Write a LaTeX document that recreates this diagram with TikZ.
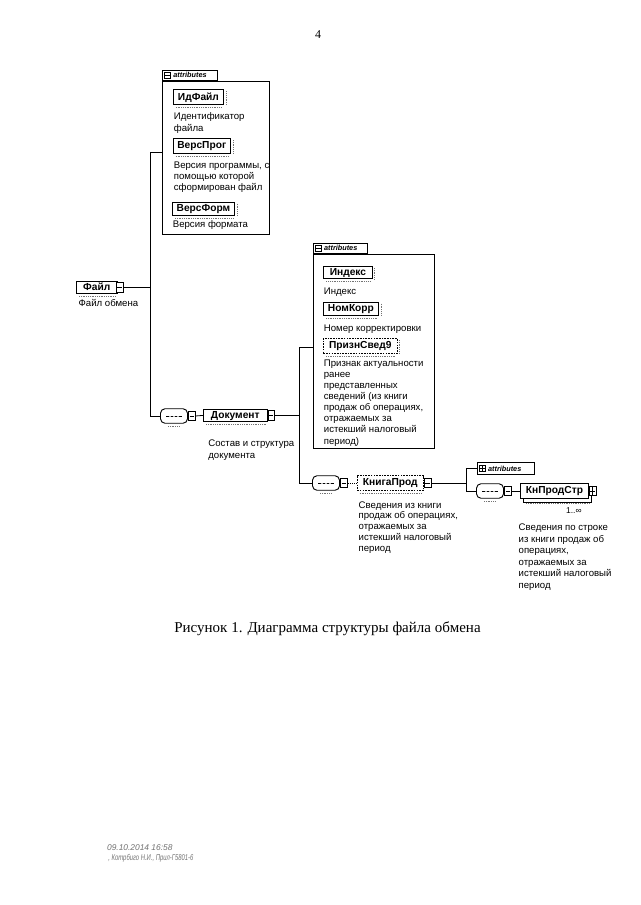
\documentclass[tikz,border=0pt]{standalone}
\usepackage{graphicx}
\usepackage{fontspec}
\setmainfont{Liberation Sans}
\newfontfamily\serifrm{Liberation Serif}
\usetikzlibrary{calc}
\begin{document}
\begin{tikzpicture}[x=1pt,y=-1pt,
  line width=0.8pt,
  elbox/.style={draw, line width=0.9pt, fill=white, inner sep=0, anchor=north west, text height=7.4pt, text depth=1.6pt,
    font=\fontsize{10.2}{11}\selectfont\bfseries},
  optbox/.style={elbox, dash pattern=on 1.6pt off 1.1pt},
  desc/.style={anchor=base west, inner sep=0, align=left, font=\fontsize{9.6}{11.3}\selectfont},
  btnm/.style={draw, line width=0.7pt, fill=white, inner sep=0, minimum width=6.6, minimum height=9.5, anchor=west,
    path picture={\draw[line width=0.6pt] ([xshift=1.2pt]path picture bounding box.west) -- ([xshift=-1.2pt]path picture bounding box.east);}},
  btnp/.style={btnm,
    path picture={\draw[line width=0.6pt] ([xshift=1.2pt]path picture bounding box.west) -- ([xshift=-1.2pt]path picture bounding box.east)
      ([yshift=-1.2pt]path picture bounding box.north) -- ([yshift=1.2pt]path picture bounding box.south);}},
  seqc/.style={draw, line width=0.9pt, fill=white, rounded corners=4.5pt, inner sep=0, minimum width=27, minimum height=14.5,
    path picture={\coordinate (ppc) at (path picture bounding box.center);
      \draw[line width=0.6pt] ($(ppc)+(-8,0)$) -- ($(ppc)+(8,0)$);
      \fill ($(ppc)+(-4,0)$) circle (1.2pt); \fill (ppc) circle (1.2pt); \fill ($(ppc)+(4,0)$) circle (1.2pt);}},
  attbox/.style={draw, line width=0.9pt, fill=white, inner sep=0, anchor=north west},
  attab/.style={draw, line width=0.8pt, fill=white, inner sep=0, anchor=south west, minimum height=10.7},
  atttxt/.style={anchor=west, inner sep=0, font=\fontsize{7.3}{8}\selectfont\itshape\bfseries},
  sqm/.style={draw, line width=0.6pt, inner sep=0, minimum size=6.5,
    path picture={\draw[line width=0.5pt] (path picture bounding box.west) -- (path picture bounding box.east);}},
  sqp/.style={draw, line width=0.6pt, inner sep=0, minimum size=6.5,
    path picture={\draw[line width=0.5pt] (path picture bounding box.west) -- (path picture bounding box.east)
      (path picture bounding box.north) -- (path picture bounding box.south);}},
  ul/.style={draw=black!55, line width=0.6pt, dash pattern=on 1pt off 0.8pt}
]
\useasboundingbox (0,0) rectangle (640,905);
\fill[white] (0,0) rectangle (640,905);

% page number
\node[inner sep=0, anchor=base, font=\serifrm\fontsize{12}{14}\selectfont] (pg) at (318,38) {4};

% ---------- attributes of Файл ----------
\node[attbox, minimum width=107, minimum height=153] (att1) at (162,81) {};
\node[attab, minimum width=55] (tab1) at (att1.north west) {};
\node[sqm] (tab1s) at ($(tab1.west)+(5.5,0)$) {};
\node[atttxt] (tab1t) at ($(tab1.west)+(11,0)$) {attributes};

\node[elbox, minimum width=50.6, minimum height=14.7] (idf) at (172.7,89.3) {ИдФайл};
\draw[ul] ($(idf.south west)+(3,2)$) -- ($(idf.south east)+(-2,2)$);
\draw[ul] ($(idf.north east)+(2,2)$) -- ($(idf.south east)+(2,0)$);
\node[desc, font=\fontsize{9.6}{11.6}\selectfont] (idfd) at (173.5,131.5) {Идентификатор\\файла};

\node[elbox, minimum width=57.3, minimum height=15] (vp) at (172.7,138) {ВерсПрог};
\draw[ul] ($(vp.south west)+(3,2)$) -- ($(vp.south east)+(-2,2)$);
\draw[ul] ($(vp.north east)+(2,2)$) -- ($(vp.south east)+(2,0)$);
\node[desc, font=\fontsize{9.6}{11.35}\selectfont] (vpd) at (173.5,190.9) {Версия программы, с\\помощью которой\\сформирован файл};

\node[elbox, minimum width=62, minimum height=13.5] (vf) at (172,201.7) {ВерсФорм};
\draw[ul] ($(vf.south west)+(3,2)$) -- ($(vf.south east)+(-2,2)$);
\draw[ul] ($(vf.north east)+(2,2)$) -- ($(vf.south east)+(2,0)$);
\node[desc] (vfd) at (172.5,227.3) {Версия формата};

% ---------- Файл ----------
\node[elbox, minimum width=40.5, minimum height=12.2] (fl) at (76,280.7) {Файл};
\node[btnm] (flb) at ($(fl.east)+(-1.5,0)$) {};
\draw[ul] ($(fl.south west)+(3,2)$) -- ($(fl.south east)+(-2,2)$);
\node[desc] (fld) at (78.3,306.6) {Файл обмена};

\coordinate (j1) at (150,152);
\draw (flb.east) -- (flb.east -| j1);
\draw (att1.north west |- j1) -- (j1) -- (j1 |- 0,416) -- (160.5,416);

% ---------- sequence 1 and Документ ----------
\node[seqc] (s1) at (174,416) {};
\draw[ul] ($(s1.south)+(-6,2.5)$) -- ($(s1.south)+(6,2.5)$);
\node[btnm] (s1b) at (s1.east) {};
\node[elbox, minimum width=63.7, minimum height=12.7, anchor=west] (doc) at (203,415.4) {Документ};
\draw[ul] ($(doc.south west)+(3,2)$) -- ($(doc.south east)+(-2,2)$);
\node[btnm] (docb) at (doc.east) {};
\draw (s1b.east) -- (doc.west);
\node[desc, font=\fontsize{9.6}{12}\selectfont] (docd) at (208,458.2) {Состав и структура\\документа};

% ---------- attributes of Документ ----------
\node[attbox, minimum width=121.3, minimum height=194] (att2) at (312.7,254) {};
\node[attab, minimum width=54.6] (tab2) at (att2.north west) {};
\node[sqm] (tab2s) at ($(tab2.west)+(5.5,0)$) {};
\node[atttxt] (tab2t) at ($(tab2.west)+(11,0)$) {attributes};

\node[elbox, minimum width=48.4, minimum height=12.3] (ind) at (323.3,266) {Индекс};
\draw[ul] ($(ind.south west)+(3,2)$) -- ($(ind.south east)+(-2,2)$);
\draw[ul] ($(ind.north east)+(2,2)$) -- ($(ind.south east)+(2,0)$);
\node[desc] (indd) at (323.5,294.9) {Индекс};

\node[elbox, minimum width=55, minimum height=13.3] (nk) at (323,301.7) {НомКорр};
\draw[ul] ($(nk.south west)+(3,2)$) -- ($(nk.south east)+(-2,2)$);
\draw[ul] ($(nk.north east)+(2,2)$) -- ($(nk.south east)+(2,0)$);
\node[desc] (nkd) at (323.5,331.5) {Номер корректировки};

\node[optbox, minimum width=73.7, minimum height=15] (ps) at (323,338) {ПризнСвед9};
\draw[ul] ($(ps.south west)+(3,2)$) -- ($(ps.south east)+(-2,2)$);
\draw[ul] ($(ps.north east)+(2,2)$) -- ($(ps.south east)+(2,0)$);
\node[desc, font=\fontsize{9.6}{11.06}\selectfont] (psd) at (323.5,444) {Признак актуальности\\ранее\\представленных\\сведений (из книги\\продаж об операциях,\\отражаемых за\\истекший налоговый\\период)};

\coordinate (j2) at (299,347);
\draw (docb.east) -- (docb.east -| j2);
\draw (att2.west |- j2) -- (j2) -- (j2 |- 0,483) -- (312.7,483);

% ---------- sequence 2 and КнигаПрод ----------
\node[seqc] (s2) at (326,483) {};
\draw[ul] ($(s2.south)+(-6,2.5)$) -- ($(s2.south)+(6,2.5)$);
\node[btnm] (s2b) at (s2.east) {};
\node[optbox, minimum width=66.3, minimum height=15, anchor=west] (kp) at (356.7,483) {КнигаПрод};
\draw[ul] ($(kp.south west)+(3,2)$) -- ($(kp.south east)+(-2,2)$);
\node[btnm] (kpb) at (kp.east) {};
\draw[dash pattern=on 1.3pt off 1pt] (s2b.east) -- (kp.west);
\node[desc, font=\fontsize{9.6}{10.85}\selectfont] (kpd) at (358.3,551.5) {Сведения из книги\\продаж об операциях,\\отражаемых за\\истекший налоговый\\период};

\coordinate (j3) at (466.7,468.5);
\draw (kpb.east) -- (kpb.east -| j3);

% ---------- attributes (collapsed) ----------
\node[draw, line width=0.8pt, fill=white, inner sep=0, minimum width=57.3, minimum height=11.3, anchor=west] (att3) at (476.7,468.5) {};
\node[sqp] (att3s) at ($(att3.west)+(5.5,0)$) {};
\node[atttxt] (att3t) at ($(att3.west)+(11,0)$) {attributes};

% ---------- sequence 3 and КнПродСтр ----------
\node[seqc] (s3) at (490,491) {};
\draw[ul] ($(s3.south)+(-6,2.5)$) -- ($(s3.south)+(6,2.5)$);
\node[btnm] (s3b) at (s3.east) {};
\draw[line width=0.8pt, fill=white] (523,486.5) rectangle (591,502);
\node[elbox, minimum width=68, minimum height=15, anchor=west] (kps) at (520,491) {КнПродСтр};
\node[btnp] (kpsb) at (kps.east) {};
\draw[ul] ($(kps.south west)+(6,4.5)$) -- ($(kps.south east)+(1,4.5)$);
\draw (s3b.east) -- (kps.west);
\node[inner sep=0, anchor=base east, font=\fontsize{8.5}{10}\selectfont] (mult) at (582,513.5) {1..∞};
\node[desc, font=\fontsize{9.6}{11.5}\selectfont] (kpsd) at (518.3,588.2) {Сведения по строке\\из книги продаж об\\операциях,\\отражаемых за\\истекший налоговый\\период};

\draw (att3.west) -- (att3.west -| j3) -- (j3 |- s3.west) -- (s3.west);

% ---------- caption ----------
\node[inner sep=0, anchor=base, font=\serifrm\fontsize{15}{17}\selectfont] (cap) at (327.5,632) {Рисунок 1. Диаграмма структуры файла обмена};

% ---------- footer ----------
\node[inner sep=0, anchor=base west, text=black!55, font=\fontsize{8.4}{9.5}\selectfont\itshape] (foot1) at (106.7,850) {09.10.2014 16:58};
\node[inner sep=0, anchor=base west, text=black!55, font=\fontsize{8.4}{9.5}\selectfont\itshape] (foot2) at (108,860) {\scalebox{0.7}[1]{, Котрбиго Н.И., Прил-Г5801-6}};
\end{tikzpicture}
\end{document}
